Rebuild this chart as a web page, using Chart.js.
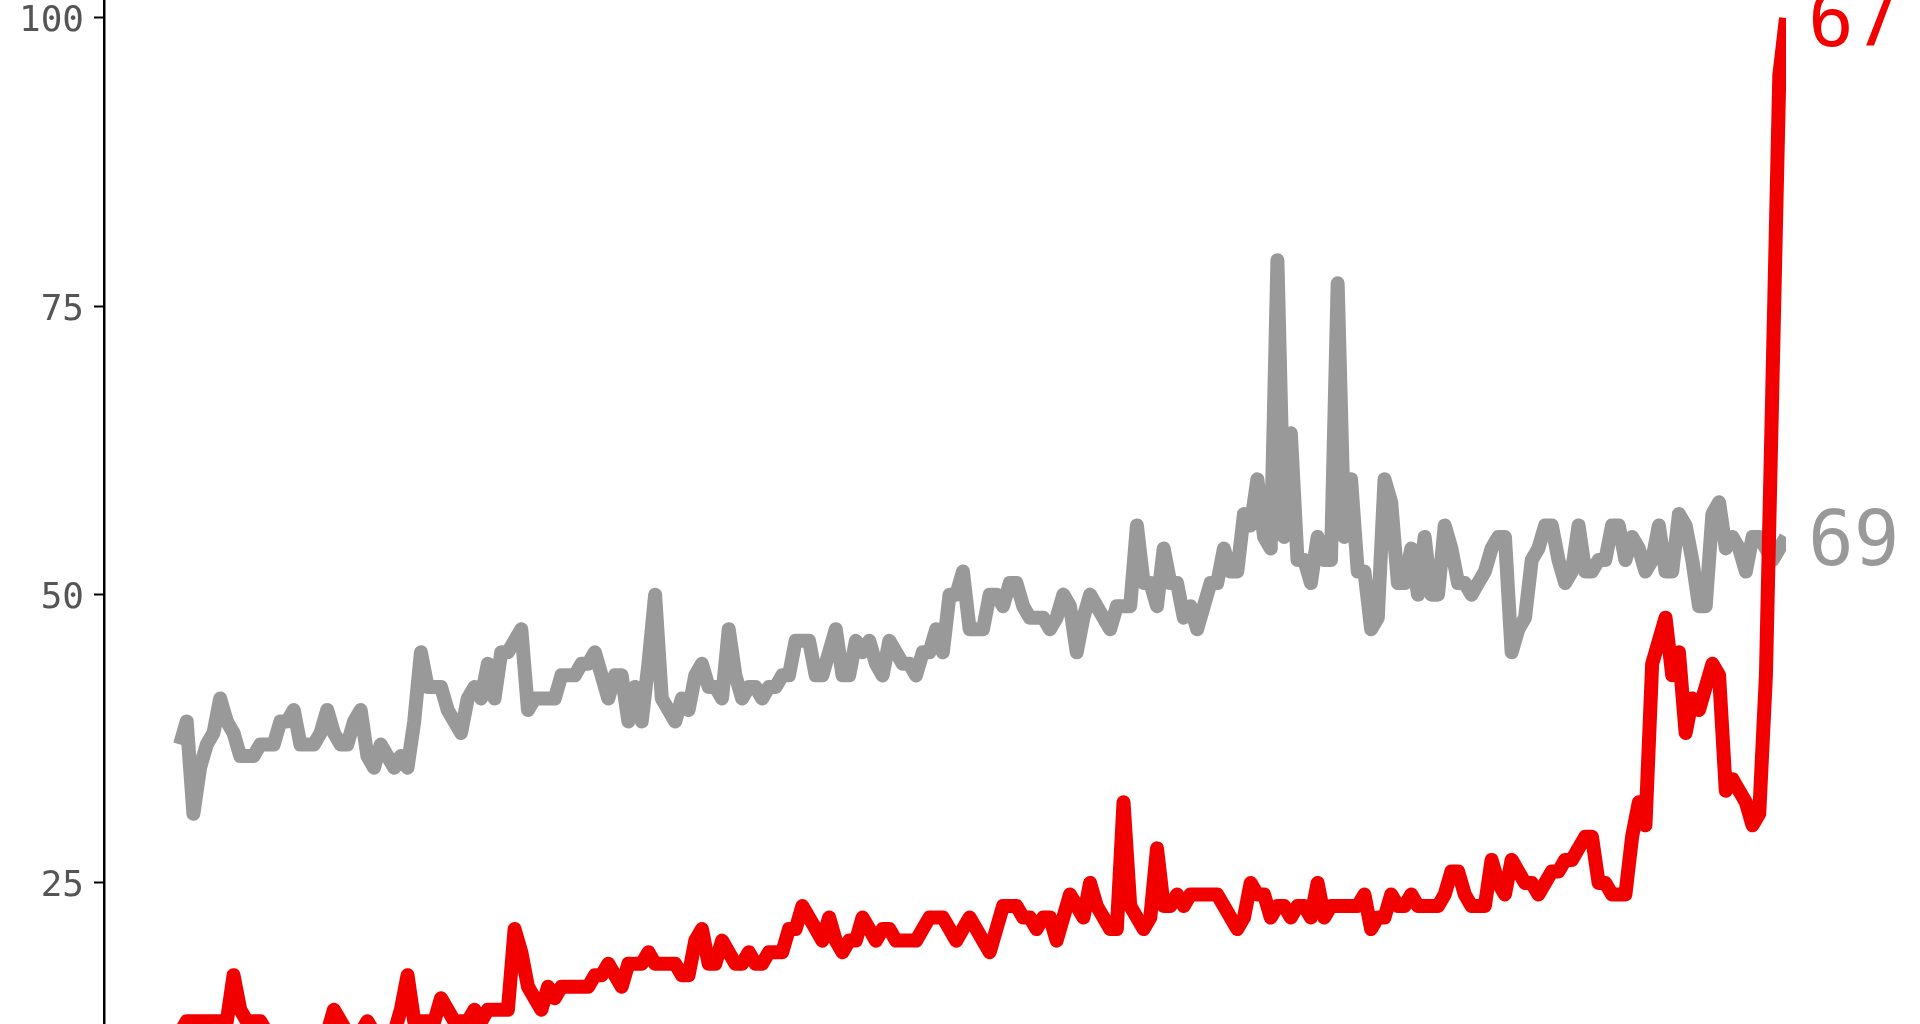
<!DOCTYPE html>
<html>
<head>
<meta charset="utf-8">
<script src="https://cdn.jsdelivr.net/npm/chart.js@4"></script>
<style>
html,body{margin:0;padding:0;background:#fff;overflow:hidden;}
#wrap{width:1920px;height:1024px;position:relative;}
</style>
</head>
<body>
<div id="wrap"><canvas id="c" width="1920" height="1024"></canvas></div>
<script>
// ---- data ----
const grayValues = [
37,39,31,35,37,38,41,39,38,36,
36,36,37,37,37,39,39,40,37,37,
37,38,40,38,37,37,39,40,36,35,
37,36,35,36,35,39,45,42,42,42,
40,39,38,41,42,41,44,41,45,45,
46,47,40,41,41,41,41,43,43,43,
44,
44,45,43,41,43,43,39,42,39,44,
50,41,40,39,41,40,43,44,42,42,
41,47,43,41,42,42,41,42,42,43,
43,46,46,46,43,43,45,47,43,43,
46,45,46,44,43,46,45,44,44,43,
45,45,47,45,50,50,52,47,47,47,
50,50,49,
51,51,49,48,48,48,47,48,50,49,
45,48,50,49,48,47,49,49,49,56,
51,51,49,54,51,51,48,49,47,49,
51,51,54,52,52,57,56,60,55,54,
79,55,64,53,53,51,55,53,53,77,
55,60,52,52,47,48,60,58,51,51,
54,
50,55,50,50,56,54,51,51,50,51,
52,54,55,55,45,47,48,53,54,56,
56,53,51,52,56,52,52,53,53,56,
56,53,55,54,52,53,56,52,52,57,
56,53,49,49,57,58,54,55,54,52,
55,55,54,53,54,55
];
const redValues = [
12,13,13,13,13,13,13,13,17,14,
13,13,13,12,11,12,11,11,12,11,
12,11,12,14,13,12,11,12,13,12,
11,12,12,14,17,13,13,13,13,15,
14,13,13,13,14,13,14,14,14,14,
21,19,16,15,14,16,15,16,16,16,
16,
16,17,17,18,17,16,18,18,18,19,
18,18,18,18,17,17,20,21,18,18,
20,19,18,18,19,18,18,19,19,19,
21,21,23,22,21,20,22,20,19,20,
20,22,21,20,21,21,20,20,20,20,
21,22,22,22,21,20,21,22,21,20,
19,21,23,
23,23,22,22,21,22,22,20,22,24,
23,22,25,23,22,21,21,32,
23,22,21,22,28,23,23,24,23,24,
24,24,24,24,23,22,21,22,25,24,
24,22,23,23,22,23,23,22,25,22,
23,23,23,23,23,24,21,22,22,24,
23,23,24,
23,23,23,23,24,26,26,24,23,23,
23,27,25,24,27,26,25,25,24,25,
26,26,27,27,28,29,29,25,25,24,
24,24,29,32,30,44,46,48,43,45,
38,41,40,42,44,43,33,34,33,32,
30,31,43,69,95,100
];
const yTickValues = [25, 50, 75, 100];
const endLabels = ["67", "69"];   // red, gray
const seriesNames = ["red", "gray"];

// ---- build ----
const toXY = arr => arr.map((v, i) => ({x: i, y: v}));
const lastIndex = Math.max(grayValues.length, redValues.length) - 1;

const endLabelPlugin = {
  id: 'endLabels',
  afterDatasetsDraw(chart) {
    const ctx = chart.ctx;
    const size = 76;
    ctx.save();
    ctx.font = size + 'px "DejaVu Sans Mono"';
    ctx.textBaseline = 'alphabetic';
    ctx.textAlign = 'left';
    chart.data.datasets.forEach((ds, di) => {
      const meta = chart.getDatasetMeta(di);
      const pt = meta.data[meta.data.length - 1];
      if (!pt) return;
      ctx.fillStyle = ds.borderColor;
      ctx.fillText(ds.endLabel, pt.x + 22, pt.y + size * 0.3645);
    });
    ctx.restore();
  }
};

new Chart(document.getElementById('c'), {
  type: 'line',
  data: {
    datasets: [
      {
        label: seriesNames[0],
        data: toXY(redValues),
        borderColor: '#f20000',
        borderWidth: 14,
        borderJoinStyle: 'round',
        borderCapStyle: 'butt',
        pointRadius: 0,
        tension: 0,
        fill: false,
        endLabel: endLabels[0]
      },
      {
        label: seriesNames[1],
        data: toXY(grayValues),
        borderColor: '#999999',
        borderWidth: 14,
        borderJoinStyle: 'round',
        borderCapStyle: 'butt',
        pointRadius: 0,
        tension: 0,
        fill: false,
        endLabel: endLabels[1]
      }
    ]
  },
  options: {
    responsive: false,
    animation: false,
    devicePixelRatio: 1,
    layout: { padding: { left: 0, top: 0, bottom: 0, right: 134 } },
    plugins: { legend: { display: false }, tooltip: { enabled: false } },
    scales: {
      x: {
        type: 'linear',
        display: false,
        min: -11.36,
        max: lastIndex
      },
      y: {
        type: 'linear',
        bounds: 'data',
        min: 12.77,
        max: 101.56,
        border: { display: true, color: '#000', width: 2.5 },
        grid: { drawOnChartArea: false, drawTicks: true, tickLength: 10, tickWidth: 2, tickColor: '#000' },
        ticks: {
          padding: 10,
          labelOffset: 4,
          color: '#555555',
          font: { family: '"DejaVu Sans Mono"', size: 36, lineHeight: 1.0 }
        },
        afterBuildTicks(scale) {
          scale.ticks = yTickValues.map(v => ({ value: v }));
        },
        afterFit(scale) {
          scale.width = 104;
          scale.paddingTop = 0;
          scale.paddingBottom = 0;
        }
      }
    }
  },
  plugins: [endLabelPlugin]
});
</script>
</body>
</html>
